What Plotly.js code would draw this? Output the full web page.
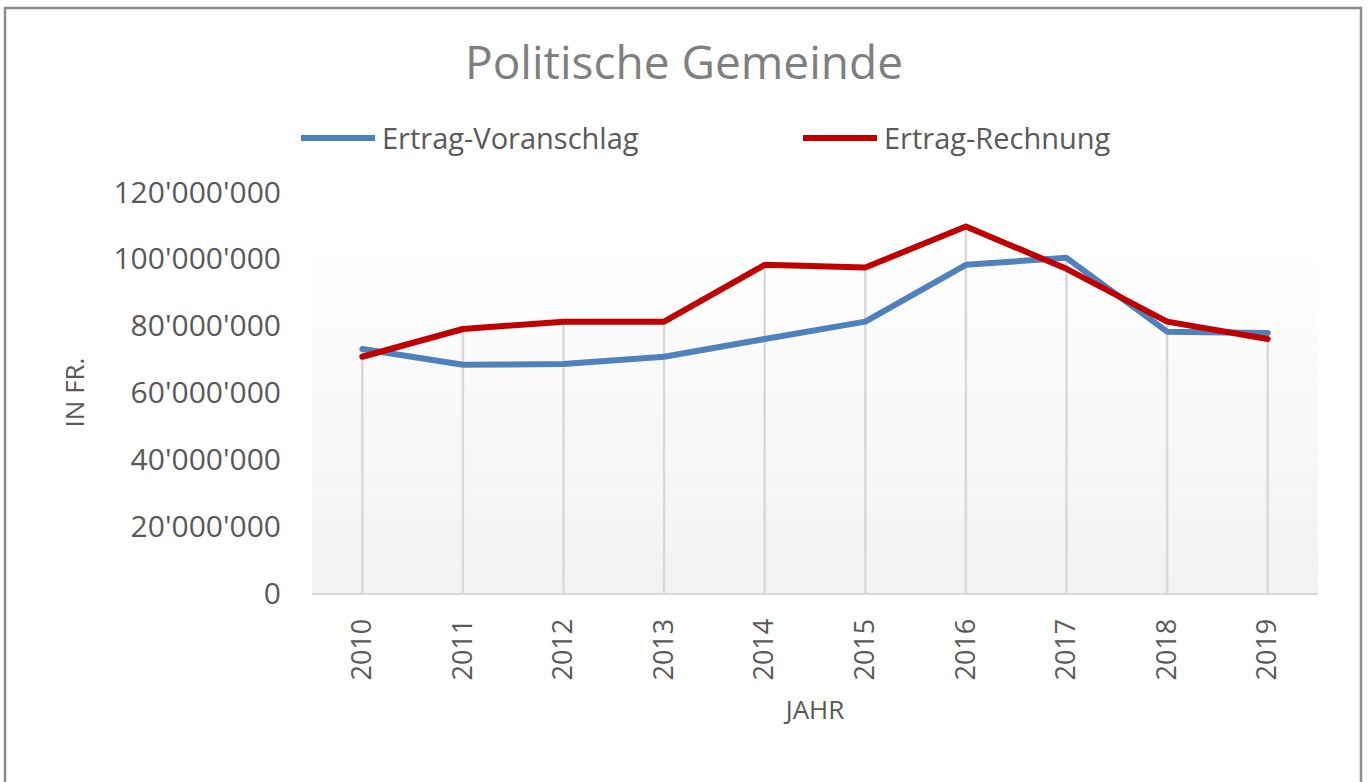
<!DOCTYPE html>
<html>
<head>
<meta charset="utf-8">
<script src="https://cdn.plot.ly/plotly-3.0.1.min.js"></script>
<style>
  html, body { margin: 0; padding: 0; background: #ffffff; }
  #chart { width: 1368px; height: 782px; }
  .js-line { stroke-linecap: round; stroke-linejoin: round; }
</style>
</head>
<body>
<div id="chart"></div>
<script>
// ---- data ----
var years = ['2010', '2011', '2012', '2013', '2014', '2015', '2016', '2017', '2018', '2019'];
var ertragVoranschlag = [73000000, 68300000, 68500000, 70700000, 76000000, 81200000, 98200000, 100300000, 78200000, 77800000];
var ertragRechnung   = [70700000, 79000000, 81200000, 81200000, 98200000, 97400000, 109700000, 97000000, 81200000, 76000000];
var seriesNames = ['Ertrag-Voranschlag', 'Ertrag-Rechnung'];
var yTickValues = [0, 20000000, 40000000, 60000000, 80000000, 100000000, 120000000];

// ---- styling ----
var blue = '#4f81bd';
var red = '#c00000';
var textGrey = '#595959';
var font = 'Open Sans, Noto Sans, sans-serif';

// drop lines from the higher of both series down to the axis
var dropX = [], dropY = [];
years.forEach(function (yr, i) {
  dropX.push(yr, yr, null);
  dropY.push(0, Math.max(ertragVoranschlag[i], ertragRechnung[i]), null);
});

var traces = [
  { x: dropX, y: dropY, type: 'scatter', mode: 'lines', line: { color: '#d9d9d9', width: 2.5 },
    hoverinfo: 'skip', showlegend: false },
  { x: years, y: ertragVoranschlag, name: seriesNames[0], type: 'scatter', mode: 'lines',
    line: { color: blue, width: 6 }, showlegend: false },
  { x: years, y: ertragRechnung, name: seriesNames[1], type: 'scatter', mode: 'lines',
    line: { color: red, width: 6 }, showlegend: false }
];

// pixel -> paper helpers (plot area: x 312..1318, y 192..593)
var L = 312, R = 50, T = 192, B = 189, W = 1368, H = 782;
function px(x) { return (x - L) / (W - L - R); }
function py(y) { return (H - B - y) / (H - T - B); }

var shapes = [];
// gradient plot background (white top -> light grey bottom)
var bands = 24, gTop = 242, gBot = 593;
for (var k = 0; k < bands; k++) {
  var t = (k + 0.5) / bands;
  var c = Math.round(255 - (255 - 242) * t);
  shapes.push({ type: 'rect', xref: 'paper', yref: 'paper', layer: 'below',
    x0: 0, x1: 1,
    y0: py(gTop + (gBot - gTop) * (k + 1) / bands), y1: py(gTop + (gBot - gTop) * k / bands),
    line: { width: 0 }, fillcolor: 'rgb(' + c + ',' + c + ',' + c + ')' });
}
// outer chart border
shapes.push({ type: 'rect', xref: 'paper', yref: 'paper', x0: px(5), x1: px(1361), y0: py(800), y1: py(8),
  line: { color: '#8c8c8c', width: 2.5 }, fillcolor: 'rgba(0,0,0,0)' });
// legend symbols
shapes.push({ type: 'line', xref: 'paper', yref: 'paper', x0: px(301), x1: px(375), y0: py(138), y1: py(138),
  line: { color: blue, width: 6 } });
shapes.push({ type: 'line', xref: 'paper', yref: 'paper', x0: px(803), x1: px(877), y0: py(138), y1: py(138),
  line: { color: red, width: 6 } });

var annotations = [
  { xref: 'paper', yref: 'paper', x: px(380), y: py(138), xanchor: 'left', yanchor: 'middle',
    text: seriesNames[0], showarrow: false, font: { family: font, size: 29, color: textGrey } },
  { xref: 'paper', yref: 'paper', x: px(882), y: py(138), xanchor: 'left', yanchor: 'middle',
    text: seriesNames[1], showarrow: false, font: { family: font, size: 29, color: textGrey } }
];

var layout = {
  width: W, height: H,
  margin: { l: L, r: R, t: T, b: B, pad: 0 },
  paper_bgcolor: '#ffffff',
  plot_bgcolor: 'rgba(0,0,0,0)',
  separators: ".'",
  showlegend: false,
  title: { text: 'Politische Gemeinde', x: 0.5, xref: 'container', xanchor: 'center',
    y: 1 - 63 / H, yref: 'container', yanchor: 'middle',
    font: { family: font, size: 46, color: '#7f7f7f' } },
  xaxis: {
    type: 'category', categoryorder: 'array', categoryarray: years,
    range: [-0.5, years.length - 0.5],
    showgrid: false, zeroline: false,
    showline: true, linecolor: '#d9d9d9', linewidth: 2,
    ticks: '', tickangle: -90, ticklabelstandoff: 13,
    tickfont: { family: font, size: 27, color: textGrey },
    title: { text: 'JAHR', standoff: 21, font: { family: font, size: 26, color: textGrey } },
    automargin: false, fixedrange: true
  },
  yaxis: {
    range: [0, 120000000], tickvals: yTickValues, tickformat: ',d',
    showgrid: false, zeroline: false, showline: false,
    ticks: '', ticklabelstandoff: 30,
    tickfont: { family: font, size: 30, color: textGrey },
    title: { text: 'IN FR.', standoff: 21, font: { family: font, size: 26, color: textGrey } },
    automargin: false, fixedrange: true
  },
  shapes: shapes,
  annotations: annotations
};

Plotly.newPlot('chart', traces, layout, { displayModeBar: false, staticPlot: true });
</script>
</body>
</html>
